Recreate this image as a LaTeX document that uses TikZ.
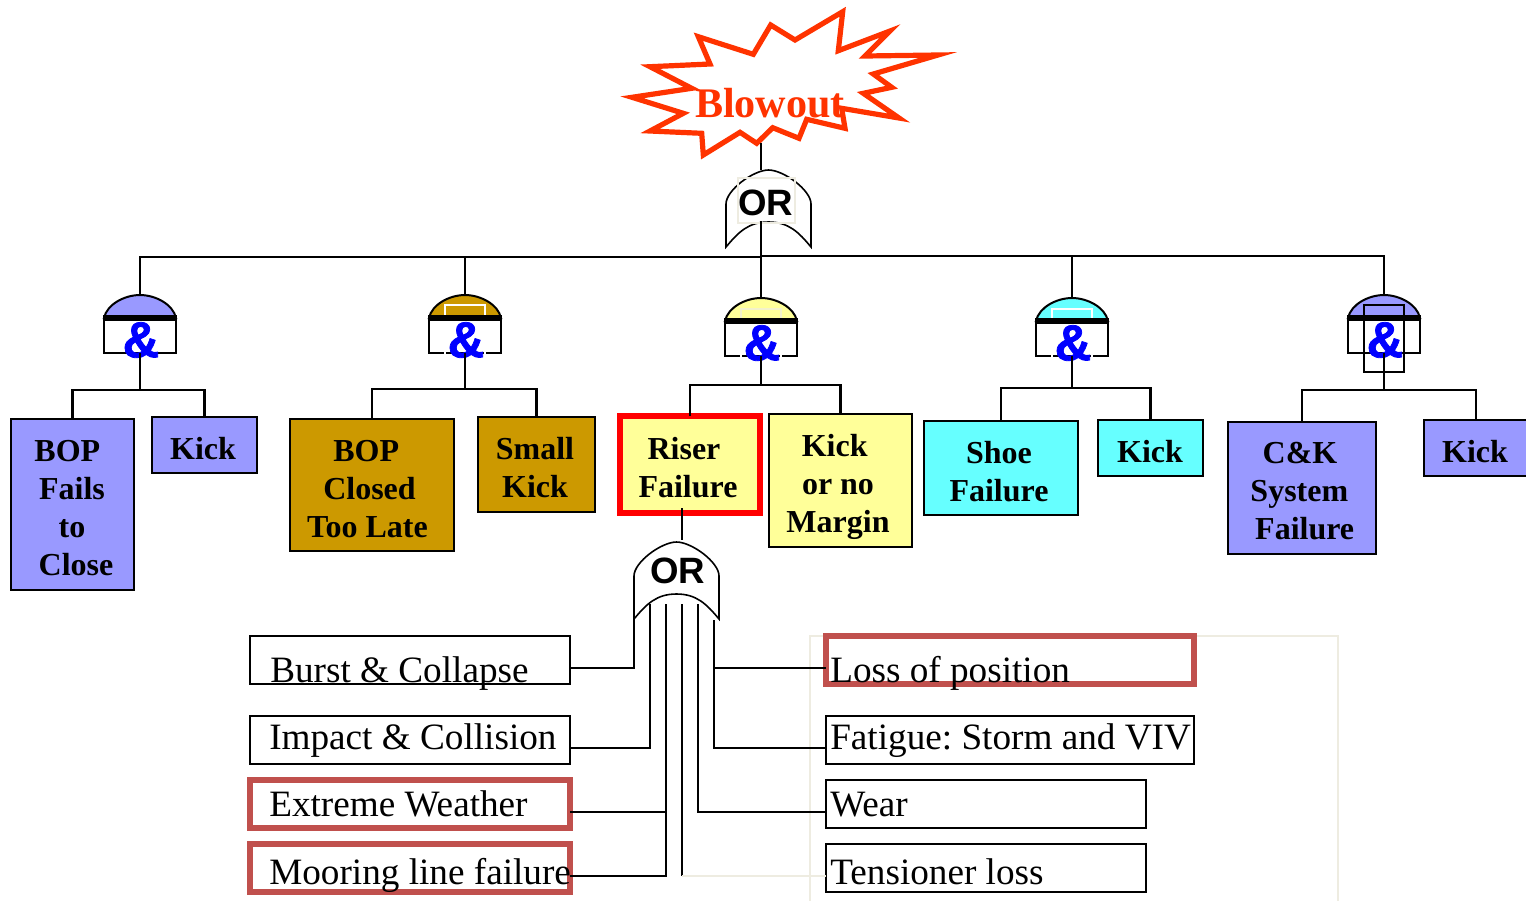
\documentclass[tikz,border=0pt]{standalone}
\usepackage{fontspec}
\setmainfont{Liberation Serif}
\newfontfamily\gatefont{Liberation Sans}
\newfontface\ampfont{Liberation Sans Bold}[FakeBold=1.5]
\frenchspacing
\definecolor{cblue}{HTML}{9999FF}
\definecolor{cgold}{HTML}{CC9900}
\definecolor{cyel}{HTML}{FFFF99}
\definecolor{ccyan}{HTML}{66FFFF}
\definecolor{cred}{HTML}{C0504D}
\definecolor{cpale}{HTML}{EEECE1}
\definecolor{cblow}{HTML}{FF3300}
\tikzset{
  x=0.75pt,y=-0.75pt,
  wire/.style={draw=black,line width=1.7pt,line join=miter},
  evbox/.style={draw=black,line width=1.6pt,rectangle,inner sep=0pt,outer sep=0pt},
  redbox/.style={draw=cred,line width=3.9pt,rectangle,inner sep=0pt,outer sep=0pt},
  blab/.style={font=\fontsize{24}{28.5}\selectfont\bfseries,align=center,inner sep=0pt},
  plab/.style={font=\fontsize{27.9}{30}\selectfont,anchor=base west,inner sep=0pt},
  gbox/.style={rectangle,minimum width=54pt,minimum height=43.5pt,inner sep=0pt,outer sep=0pt},
  orbox/.style={rectangle,minimum width=63.75pt,minimum height=57.75pt,inner sep=0pt,outer sep=0pt},
  amp/.style={font=\ampfont\fontsize{38}{38}\selectfont,text=blue,inner sep=0pt},
  orlab/.style={font=\gatefont\bfseries\fontsize{27.5}{28}\selectfont,inner sep=0pt},
}
% name, cx, top, fill
\newcommand{\andgate}[4]{%
  \node[gbox] (#1) at (#2,#3+29) {};
  \begin{scope}[shift={(#2,#3)}]
    \draw[line width=1.5pt,fill=#4] (-36,23) .. controls (-33,9) and (-15,0) .. (0,0) .. controls (15,0) and (33,9) .. (36,23) -- cycle;
    \draw[line width=1.5pt] (-36,23) -- (-36,58) -- (36,58) -- (36,23);
  \end{scope}}
\newcommand{\andbar}[3]{%
  \draw[line width=3.8pt] (#1-37,#2+23) -- (#1+37,#2+23);
  \node[amp] (#3) at (#1+1,#2+45) {\&};}
% name, cx, top
\newcommand{\orgate}[3]{%
  \node[orbox] (#1) at (#2,#3+38.5) {};
  \begin{scope}[shift={(#2,#3)}]
    \draw[line width=1.2pt,fill=white] (-42.5,77) -- (-42.5,34) .. controls (-42.5,20) and (-15,0) .. (0,0) .. controls (15,0) and (42.5,20) .. (42.5,34) -- (42.5,77) .. controls (30,62) and (20,52) .. (0,52) .. controls (-20,52) and (-30,62) .. cycle;
  \end{scope}}
\begin{document}
\begin{tikzpicture}
\useasboundingbox (0,0) rectangle (1526,901);
\fill[white] (0,0) rectangle (1526,901);

% pale frame
\draw[cpale,line width=1.5pt] (810,901) -- (810,636) -- (1338,636) -- (1338,901);

% blowout star
\draw[cblow,line width=3.9pt,miter limit=12]
 (842.7,11.7) -- (838.3,50.7) -- (890,31) -- (865,56) -- (938,55) -- (873.3,74) -- (891.7,87.3) -- (863.3,93.3) -- (899,118) -- (841.7,108.3) -- (845,128.3) -- (806.7,119.3) -- (799,138.3) -- (772.7,127.7) -- (756.7,143.3) -- (740,132.3) -- (703.3,155) -- (701.7,133.3) -- (650,131) -- (683.3,113.3) -- (632,97.3) -- (691.7,88.3) -- (650,66.7) -- (710,64) -- (698.3,36.7) -- (753.3,54.3) -- (770.7,25) -- (795,40) -- cycle;
\node[font=\fontsize{31.6}{32}\selectfont\bfseries,text=cblow,inner sep=0pt] (blowout) at (770,103) {Blowout};
\coordinate (starbottom) at (761,143);

% top OR gate
\orgate{orA}{768.5}{170}
\draw[cpale,line width=1pt] (738,178) rectangle (795,223);
\node[orlab] (orAt) at (765.5,203) {OR};

% AND gates
\andgate{g1}{140}{295}{cblue}
\andbar{140}{295}{a1}
\andgate{g2}{465}{295}{cgold}
\draw[white,line width=1.3pt] (445,353.8) -- (445,305) -- (485,305) -- (485,353.8);
\andbar{465}{295}{a2}
\andgate{g3}{761}{298}{cyel}
\draw[white,line width=1.3pt] (741,356.8) -- (741,320) (781,356.8) -- (781,320);
\draw[cpale!70!cyel,line width=1.3pt] (741,320) -- (741,309) -- (781,309) -- (781,320);
\andbar{761}{298}{a3}
\andgate{g4}{1072}{298}{ccyan}
\draw[white,line width=1.3pt] (1052,356.8) -- (1052,309) -- (1092,309) -- (1092,356.8);
\andbar{1072}{298}{a4}
\andgate{g5}{1384}{295}{cblue}
\draw[line width=1.5pt] (1363.5,305) rectangle (1404,372);
\andbar{1384}{295}{a5}

% upper boxes
\node[evbox,fill=cblue,minimum width=92.25pt,minimum height=128.25pt] (b1) at (72.5,504.5) {};
\node[evbox,fill=cblue,minimum width=78.75pt,minimum height=42pt] (b2) at (204.5,445) {};
\node[evbox,fill=cgold,minimum width=123pt,minimum height=99pt] (b3) at (372,485) {};
\node[evbox,fill=cgold,minimum width=87.75pt,minimum height=71.25pt] (b4) at (536.5,464.5) {};
\node[draw=red,line width=3.9pt,fill=cyel,rectangle,inner sep=0pt,outer sep=0pt,minimum width=105pt,minimum height=72.75pt] (b5) at (690,464.5) {};
\node[evbox,fill=cyel,minimum width=107.25pt,minimum height=99.75pt] (b6) at (840.5,480.5) {};
\node[evbox,fill=ccyan,minimum width=115.5pt,minimum height=70.5pt] (b7) at (1001,468) {};
\node[evbox,fill=ccyan,minimum width=78.75pt,minimum height=42pt] (b8) at (1150.5,448) {};
\node[evbox,fill=cblue,minimum width=111pt,minimum height=99pt] (b9) at (1302,488) {};
\node[evbox,fill=cblue,minimum width=78pt,minimum height=42pt] (b10) at (1476,448) {};

% upper box labels
\node[blab] (t1) at (72,508) {\hspace*{-7pt}BOP\\Fails\\to\\\hspace*{6pt}Close};
\node[blab] at (203,449) (t2) {Kick};
\node[blab] at (367.5,489) (t3) {\hspace*{-2pt}BOP\\\hspace*{3pt}Closed\\Too Late};
\node[blab] at (535,468) (t4) {Small\\Kick};
\node[blab] at (688,468) (t5) {\hspace*{-6pt}Riser\\Failure};
\node[blab] at (838,487) (t6) {\hspace*{-5pt}Kick\\or no\\Margin};
\node[blab] at (999,472) (t7) {Shoe\\Failure};
\node[blab] at (1150,452) (t8) {Kick};
\node[blab] at (1304,491) (t9) {\hspace*{-6pt}C\&K\\\hspace*{-7pt}System\\\hspace*{1pt}Failure};
\node[blab] at (1475,452) (t10) {Kick};

% lower OR gate
\orgate{orB}{676.5}{542}
\node[orlab] (orBt) at (677.5,571) {OR};

% lower boxes
\node[evbox,minimum width=240pt,minimum height=36pt] (l1) at (410,660) {};
\node[evbox,minimum width=240pt,minimum height=36pt] (l2) at (410,740) {};
\node[redbox,minimum width=240pt,minimum height=36pt] (l3) at (410,804) {};
\node[redbox,minimum width=240pt,minimum height=36pt] (l4) at (410,868) {};
\node[redbox,minimum width=276pt,minimum height=36pt] (r1) at (1010,660) {};
\node[evbox,minimum width=276pt,minimum height=36pt] (r2) at (1010,740) {};
\node[evbox,minimum width=240pt,minimum height=36pt] (r3) at (986,804) {};
\node[evbox,minimum width=240pt,minimum height=36pt] (r4) at (986,868) {};

\node[plab] (tl1) at (270,682) {Burst \& Collapse};
\node[plab] (tl2) at (269,749) {Impact \& Collision};
\node[plab] (tl3) at (269,816) {Extreme Weather};
\node[plab] (tl4) at (269,884) {Mooring line failure};
\node[plab] (tr1) at (830,682) {Loss of position};
\node[plab] (tr2) at (830,749) {Fatigue: Storm and VIV};
\node[plab] (tr3) at (830,816) {Wear};
\node[plab] (tr4) at (830,884) {Tensioner loss};

% connectors
\coordinate (busL) at (761,257);
\coordinate (busR) at (761,256);
\draw[wire] (starbottom) -- (orA.north -| starbottom);
\draw[wire] (g1.north) |- (busL);
\draw[wire] (g2.north) -- (g2.north |- busL);
\draw[wire] (g5.north) |- (busR);
\draw[wire] (g4.north) -- (g4.north |- busR);
\draw[wire] (761,221) -- (g3.north);

\foreach \g/\a/\b/\y in {g1/b1/b2/390,g2/b3/b4/389,g3/b5/b6/385,g4/b7/b8/388,g5/b9/b10/390}{
  \coordinate (lb) at (\g.south |- 0,\y);
  \draw[wire] (\g.south) -- (lb);
  \draw[wire] (\a.north) |- (lb) -| (\b.north);
}

% lower OR wiring
\coordinate (stemtop) at (682,508);
\coordinate (stembot) at (682,540);
\draw[wire] (stemtop) -- (stembot);
\coordinate (w1) at (634,604);
\coordinate (w2) at (650,604);
\coordinate (w3) at (666,604);
\coordinate (w4) at (682,604);
\coordinate (w5) at (698,604);
\coordinate (w6) at (714,620);
\draw[wire] (w1) |- ([yshift=-6pt]l1.east);
\draw[wire] (w2) |- ([yshift=-6pt]l2.east);
\draw[wire] (w3) |- ([yshift=-6pt]l3.east);
\draw[wire] (w3) |- ([yshift=-6pt]l4.east);
\draw[wire] (w4) -- (w4 |- 0,876);
\draw[wire] (w5) |- ([yshift=-6pt]r3.west);
\draw[wire] (w6) |- ([yshift=-6pt]r2.west);
\draw[wire] (w6) |- ([yshift=-6pt]r1.west);
\draw[cpale,line width=1.5pt] (w4 |- 0,876) -- ([yshift=-6pt]r4.west);
\end{tikzpicture}
\end{document}
